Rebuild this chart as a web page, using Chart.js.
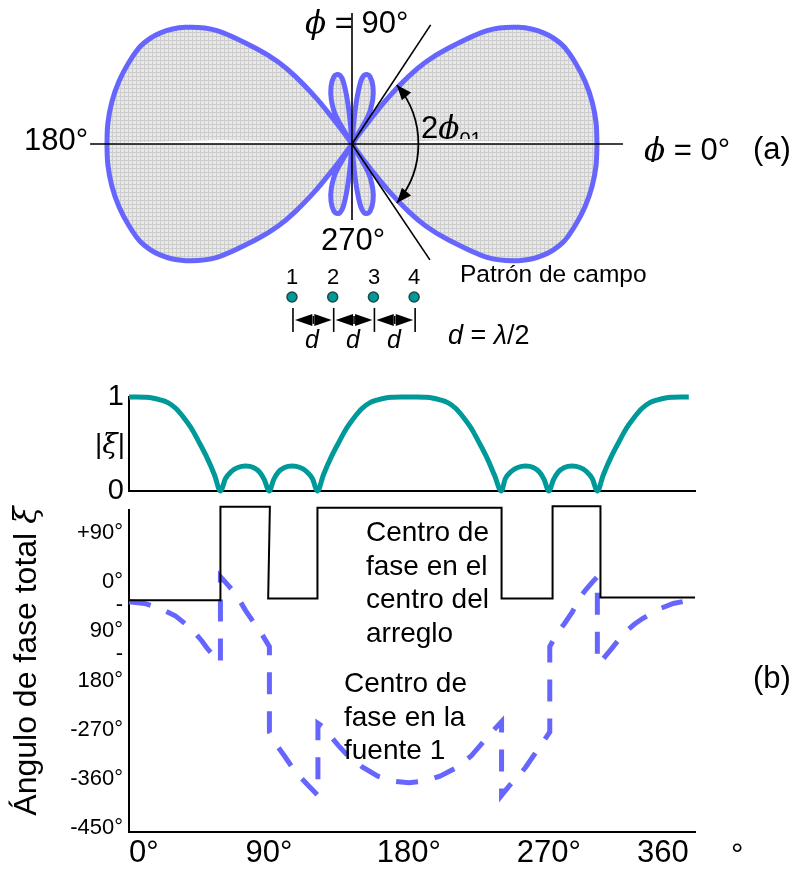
<!DOCTYPE html>
<html><head><meta charset="utf-8">
<script src="https://cdn.jsdelivr.net/npm/chart.js@4.4.0/dist/chart.umd.min.js"></script>
<style>
html,body{margin:0;padding:0;background:#fff;}
body{width:794px;height:869px;position:relative;overflow:hidden;font-family:"Liberation Sans",Arial,sans-serif;color:#000;}
canvas{position:absolute;left:0;}
.t{position:absolute;white-space:nowrap;line-height:1;}
.sym{font-family:"DejaVu Serif","Liberation Serif",serif;font-style:italic;}
.it{font-style:italic;}
.clip{position:absolute;overflow:hidden;}
</style></head><body>
<canvas id="cPolar" width="794" height="360" style="top:0;width:794px;height:360px"></canvas>
<canvas id="cPhase" width="794" height="369" style="top:500px;width:794px;height:369px"></canvas>
<canvas id="cMag" width="794" height="135" style="top:370px;width:794px;height:135px"></canvas>

<!-- (a) labels -->
<div class="t" style="left:305px;top:7px;font-size:31px"><span class="sym">ϕ</span> = 90°</div>
<div class="t" style="left:24px;top:124px;font-size:31px">180°</div>
<div class="t" style="left:321px;top:224px;font-size:31px">270°</div>
<div class="clip" style="left:640px;top:130px;width:110px;height:32px"><div class="t" style="left:4px;top:4px;font-size:31px"><span class="sym">ϕ</span> = 0°</div></div>
<div class="t" style="left:753px;top:133px;font-size:31px">(a)</div>
<div class="clip" style="left:418px;top:105px;width:80px;height:34px"><div class="t" style="left:3px;top:7px;font-size:31px">2<span class="sym">ϕ</span><span style="font-size:20px;vertical-align:-8px">01</span></div></div>
<div class="t" style="left:460px;top:262px;font-size:24.5px">Patrón de campo</div>
<div class="t" style="left:277px;top:266px;width:30px;text-align:center;font-size:22px">1</div>
<div class="t" style="left:318px;top:266px;width:30px;text-align:center;font-size:22px">2</div>
<div class="t" style="left:359px;top:266px;width:30px;text-align:center;font-size:22px">3</div>
<div class="t" style="left:399px;top:266px;width:30px;text-align:center;font-size:22px">4</div>
<div class="t it" style="left:297px;top:327px;width:30px;text-align:center;font-size:25px">d</div>
<div class="t it" style="left:338px;top:327px;width:30px;text-align:center;font-size:25px">d</div>
<div class="t it" style="left:379px;top:327px;width:30px;text-align:center;font-size:25px">d</div>
<div class="t" style="left:448px;top:322px;font-size:27px"><span class="it">d</span> = <span class="it">λ</span>/2</div>

<!-- (b) labels -->
<div class="t" style="left:95px;top:430px;font-size:28px">|<span class="sym">ξ</span>|</div>
<div class="t" style="left:-155px;top:645px;width:360px;height:32px;text-align:center;font-size:32px;transform:rotate(-90deg)">Ángulo de fase total <span class="sym">ξ</span></div>
<div class="t" style="left:366px;top:515px;font-size:28px;line-height:33.6px">Centro de<br>fase en el<br>centro del<br>arreglo</div>
<div class="t" style="left:344px;top:666px;font-size:28px;line-height:33.6px">Centro de<br>fase en la<br>fuente 1</div>
<div class="t" style="left:753px;top:662px;font-size:31px">(b)</div>
<div class="t" style="left:731px;top:839px;font-size:31px">°</div>

<script>
// ---------- DATA ----------
// (a) field pattern, first quadrant (angle in degrees, relative radius)
const patternAngles = [0,5,10,15,20,25,30,35,40,45,48,50,52,53,54,55,58,60,65,70,75,78,80,82,84,85.5,87,90];
const patternRadii  = [1.00,1.00,0.995,0.985,0.97,0.95,0.905,0.83,0.72,0.55,0.45,0.36,0.24,0.15,0.06,0,0,0.13,0.20,0.25,0.285,0.29,0.285,0.26,0.18,0.08,0,0];
// array elements
const elementNumbers = [1,2,3,4];

// (b) |xi| vs angle
const magAngles = [0,5,10,15,20,25,30,35,40,45,50,55,58.8,62,66,70,75,80,84,87,90.2,93,96,100,105,110,114,118,121.2,125,130,135,140,145,150,155,160,165,170,175,180,
                   185,190,195,200,205,210,215,220,225,230,235,239.4,242,246,250,255,260,264,267,270,273,276,280,285,290,294,298,301.2,305,310,315,320,325,330,335,340,345,350,355,360];
const magValues = [1,1,0.997,0.99,0.97,0.94,0.88,0.785,0.67,0.52,0.36,0.17,0,0.13,0.21,0.25,0.265,0.25,0.2,0.12,0,0.12,0.2,0.25,0.265,0.25,0.21,0.13,0,0.17,0.36,0.52,0.67,0.785,0.88,0.94,0.97,0.99,0.997,1,1,
                   1,0.997,0.99,0.97,0.94,0.88,0.785,0.67,0.52,0.36,0.17,0,0.13,0.21,0.25,0.265,0.25,0.2,0.12,0,0.12,0.2,0.25,0.265,0.25,0.21,0.13,0,0.17,0.36,0.52,0.67,0.785,0.88,0.94,0.97,0.99,0.997,1,1];

// phase, centre of phase at array centre (degrees)
const centreAngles = [0,58.8,58.8,90.6,89.5,121.2,121.2,239.6,239.6,272.4,272.4,303.2,303.2,364];
const centrePhase  = [-33,-33,138,138,-30,-30,136,136,-30,-30,139,139,-28,-28];

// phase, centre of phase at source 1 (degrees)
const source1Angles = [0,10,20,30,40,47,50,55,58.8, 58.8,62,66,70,75,80,85,90.3, 90.3,95,100,105,110,115,121.5,
  121.5,125,130,135,140,150,160,170,180,190,200,210,220,230,236,239.6, 239.6,245,250,255,260,265,270.6,
  270.6,275,280,285,290,294,298,301.2, 301.2,305,310,315,320,325,330,340,350,359];
const source1Phase = [-36,-39,-48,-62,-85,-108,-120,-137,-148, 10,0,-13,-28,-52,-73,-93,-118, -274,-298,-318,-339,-356,-371,-390,
  -258,-265,-283,-300,-315,-338,-355,-364,-367,-364,-355,-340,-318,-285,-266,-255, -390,-371,-356,-339,-318,-298,-274,
  -118,-95,-76,-55,-28,-13,0,10, -148,-140,-123,-105,-89,-77,-67,-50,-39,-34];

// tick labels
const magTickValues = [0,1];
const magTickLabels = ['0','1'];
const phaseTickValues = [90,0,-90,-180,-270,-360,-450];
const phaseTickLabels = ['+90°','0°',['-','90°',''],['-','180°',''],'-270°','-360°','-450°'];
const angleTickValues = [0,90,180,270,360];
const angleTickLabels = ['0°','90°','180°','270°','360'];

// ---------- BUILD ----------
Chart.defaults.font.family = '"Liberation Sans", Arial, sans-serif';
Chart.defaults.color = '#000';
const BLUE = '#6666ff', TEAL = '#009999';

// full closed pattern from the quadrant by symmetry
const polarPts = [];
function addPt(deg, r){ const a = deg*Math.PI/180; polarPts.push({x:r*Math.cos(a), y:r*Math.sin(a)}); }
for (let i=0;i<patternAngles.length;i++) addPt(patternAngles[i], patternRadii[i]);
for (let i=patternAngles.length-2;i>=0;i--) addPt(180-patternAngles[i], patternRadii[i]);
for (let i=1;i<patternAngles.length;i++) addPt(180+patternAngles[i], patternRadii[i]);
for (let i=patternAngles.length-2;i>=0;i--) addPt(360-patternAngles[i], patternRadii[i]);

const elemPts = elementNumbers.map(n => ({x: -0.245 + (n-1)*0.1662, y: -0.6245}));

const pc = document.createElement('canvas'); pc.width = 4; pc.height = 4;
const pg = pc.getContext('2d');
pg.fillStyle = '#e8e8e8'; pg.fillRect(0,0,4,4);
pg.fillStyle = '#cdcdcd'; pg.fillRect(0,0,4,1); pg.fillRect(0,0,1,4);
const polarCtx = document.getElementById('cPolar').getContext('2d');
const fillPattern = polarCtx.createPattern(pc, 'repeat');

// reference lines of (a), in pattern units
const refLines = [[-1.069,0,1.106,0],[0,0.535,0,-0.31],[0,0,0.321,0.486],[0,0,0.318,-0.473]];
const arcCentre = [-0.102,0], arcRadius = 0.373, arcHalfAngle = 40.2;
// thin white slivers just above the horizontal axis inside the lobes (as in the figure)
const slivers = [[[-0.97,0.004],[-0.55,0.016],[-0.03,0.004]], [[0.04,0.004],[0.35,0.014],[0.95,0.004]]];

const polarDecor = {
  id:'polarDecor',
  afterDatasetsDraw(chart){
    const {ctx, scales:{x, y}} = chart;
    const X = v => x.getPixelForValue(v), Y = v => y.getPixelForValue(v);
    ctx.save();
    ctx.fillStyle = '#fff';
    slivers.forEach(s => { ctx.beginPath(); ctx.moveTo(X(s[0][0]),Y(0)); s.forEach(p=>ctx.lineTo(X(p[0]),Y(p[1]))); ctx.lineTo(X(s[2][0]),Y(0)); ctx.closePath(); ctx.fill(); });
    ctx.strokeStyle = '#000'; ctx.fillStyle = '#000'; ctx.lineWidth = 1.6;
    refLines.forEach(([x1,y1,x2,y2]) => { ctx.beginPath(); ctx.moveTo(X(x1),Y(y1)); ctx.lineTo(X(x2),Y(y2)); ctx.stroke(); });
    // 2phi arc with arrows
    const cx = X(arcCentre[0]), cy = Y(arcCentre[1]), R = X(arcRadius) - X(0);
    const th = arcHalfAngle*Math.PI/180;
    ctx.lineWidth = 1.8;
    ctx.beginPath(); ctx.arc(cx, cy, R, -th, th); ctx.stroke();
    [[th,-1],[-th,1]].forEach(([t,s]) => {
      const px = cx + R*Math.cos(t), py = cy - R*Math.sin(t);
      const dx = -Math.sin(Math.abs(t)), dy = s*Math.cos(t);
      const L = 15, W = 6;
      const bx = px - L*dx, by = py - L*dy;
      ctx.beginPath(); ctx.moveTo(px,py); ctx.lineTo(bx - W*dy, by + W*dx); ctx.lineTo(bx + W*dy, by - W*dx); ctx.closePath(); ctx.fill();
    });
    // element spacing brackets
    const barTop = Y(-0.669), barBot = Y(-0.767), ay = Y(-0.718);
    const bx = elemPts.map(p => X(p.x) + 1);
    ctx.lineWidth = 1.6;
    bx.forEach(b => { ctx.beginPath(); ctx.moveTo(b, barTop); ctx.lineTo(b, barBot); ctx.stroke(); });
    for (let i=0;i<bx.length-1;i++){
      const a = bx[i]+2, b = bx[i+1]-2, m = (a+b)/2;
      ctx.beginPath(); ctx.moveTo(a, ay); ctx.lineTo(m-1, ay-6); ctx.lineTo(m-1, ay+6); ctx.closePath(); ctx.fill();
      ctx.beginPath(); ctx.moveTo(b, ay); ctx.lineTo(m+1, ay-6); ctx.lineTo(m+1, ay+6); ctx.closePath(); ctx.fill();
      ctx.beginPath(); ctx.moveTo(m, ay-4); ctx.lineTo(m, ay+4); ctx.stroke();
    }
    ctx.restore();
  }
};

new Chart(polarCtx, {
  type:'scatter',
  data:{datasets:[
    {data: polarPts, showLine:true, fill:'shape', backgroundColor: fillPattern, borderColor: BLUE, borderWidth:5, pointRadius:0, tension:0.3, clip:false},
    {data: elemPts, showLine:false, pointRadius:5, pointBackgroundColor: TEAL, pointBorderColor:'#1d4a48', pointBorderWidth:1.5, clip:false}
  ]},
  options:{
    responsive:false, animation:false, events:[],
    layout:{padding:0, autoPadding:false},
    scales:{
      x:{type:'linear', display:false, min:-352/245, max:(794-352)/245},
      y:{type:'linear', display:false, min:-(360-144)/245, max:144/245}
    },
    plugins:{legend:{display:false}, tooltip:{enabled:false}}
  },
  plugins:[polarDecor]
});

function noPad(s){ s.paddingTop = 0; s.paddingBottom = 0; s.paddingLeft = 0; s.paddingRight = 0; }

// |xi| chart
new Chart(document.getElementById('cMag'), {
  type:'line',
  data:{datasets:[{data: magAngles.map((a,i)=>({x:a, y:magValues[i]})), borderColor: TEAL, borderWidth:5,
    pointRadius:0, cubicInterpolationMode:'monotone', fill:false, clip:false}]},
  options:{
    responsive:false, animation:false, events:[],
    layout:{padding:{top:27, right:99, left:0, bottom:0}, autoPadding:false},
    scales:{
      x:{type:'linear', min:0, max:364, ticks:{display:false}, grid:{display:false, drawTicks:false},
         border:{display:true, color:'#000', width:2}, afterFit(s){ s.height = 14; noPad(s); }},
      y:{type:'linear', min:0, max:1,
         afterBuildTicks(s){ s.ticks = magTickValues.map(v=>({value:v})); },
         ticks:{font:{size:29}, color:'#000', padding:5, callback:(v)=>magTickLabels[magTickValues.indexOf(v)]},
         grid:{display:false, drawTicks:false}, border:{display:true, color:'#000', width:2},
         afterFit(s){ s.width = 129; noPad(s); }}
    },
    plugins:{legend:{display:false}, tooltip:{enabled:false}}
  }
});

// phase chart
new Chart(document.getElementById('cPhase'), {
  type:'line',
  data:{datasets:[
    {data: centreAngles.map((a,i)=>({x:a, y:centrePhase[i]})), borderColor:'#000', borderWidth:2, pointRadius:0, tension:0, fill:false, clip:false},
    {data: source1Angles.map((a,i)=>({x:a, y:source1Phase[i]})), borderColor: BLUE, borderWidth:5, borderDash:[22,17], pointRadius:0, tension:0, fill:false, clip:false}
  ]},
  options:{
    responsive:false, animation:false, events:[],
    layout:{padding:{top:10, right:99, left:0, bottom:0}, autoPadding:false},
    scales:{
      x:{type:'linear', min:0, max:364,
         afterBuildTicks(s){ s.ticks = angleTickValues.map(v=>({value:v})); },
         ticks:{font:{size:31}, color:'#000', padding:3, maxRotation:0, autoSkip:false, align:'inner',
                callback:(v)=>angleTickLabels[angleTickValues.indexOf(v)]},
         grid:{display:false, drawTicks:false}, border:{display:true, color:'#000', width:2},
         afterFit(s){ s.height = 37; noPad(s); }},
      y:{type:'linear', min:-457, max:132,
         afterBuildTicks(s){ s.ticks = phaseTickValues.map(v=>({value:v})); },
         ticks:{font:{size:22}, color:'#000', padding:6, autoSkip:false,
                callback:(v)=>phaseTickLabels[phaseTickValues.indexOf(v)]},
         grid:{display:false, drawTicks:false}, border:{display:true, color:'#000', width:2},
         afterFit(s){ s.width = 129; noPad(s); }}
    },
    plugins:{legend:{display:false}, tooltip:{enabled:false}}
  }
});
</script>
</body></html>
